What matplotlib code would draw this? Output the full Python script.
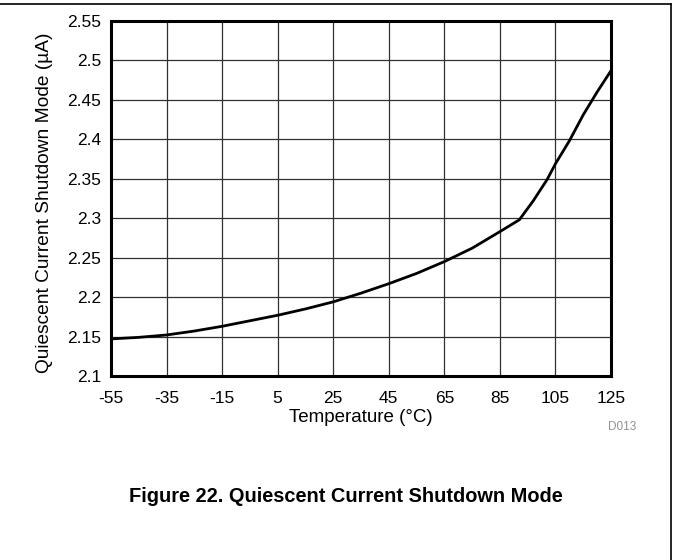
import matplotlib
matplotlib.use("Agg")
from matplotlib import pyplot as plt
from matplotlib.lines import Line2D

plt.rcParams['font.family'] = ['Liberation Sans', 'DejaVu Sans']

# dados
temp = [-55, -45, -35, -25, -15, -5, 5, 15, 25, 35, 45, 55, 65, 75, 85,
        92, 97, 102, 105, 110, 115, 120, 125]
corrente = [2.147, 2.149, 2.152, 2.157, 2.163, 2.170, 2.177, 2.185, 2.194,
            2.205, 2.217, 2.230, 2.245, 2.262, 2.283, 2.298, 2.322, 2.349,
            2.369, 2.398, 2.431, 2.460, 2.487]

xticks = [-55, -35, -15, 5, 25, 45, 65, 85, 105, 125]
xlabels = ["-55", "-35", "-15", "5", "25", "45", "65", "85", "105", "125"]
yticks = [2.1, 2.15, 2.2, 2.25, 2.3, 2.35, 2.4, 2.45, 2.5, 2.55]
ylabels = ["2.1", "2.15", "2.2", "2.25", "2.3", "2.35", "2.4", "2.45", "2.5", "2.55"]

fig = plt.figure(figsize=(6.73, 5.6), dpi=100)
ax = fig.add_axes([111/673, 184/560, 500/673, 355/560])

ax.plot(temp, corrente, color="black", linewidth=2.0)
ax.set_xlim(-55, 125)
ax.set_ylim(2.1, 2.55)
ax.set_xticks(xticks)
ax.set_xticklabels(xlabels)
ax.set_yticks(yticks)
ax.set_yticklabels(ylabels)
ax.tick_params(length=0, labelsize=12.5)
ax.tick_params(axis="x", pad=11)
ax.tick_params(axis="y", pad=7)
ax.grid(True, color="#303030", linewidth=0.9)
for s in ax.spines.values():
    s.set_linewidth(2.2)

# titulos dos eixos
fig.text(361/673, 1 - 418/560, "Temperature (°C)", fontsize=13.5,
         ha="center", va="center")
fig.text(45/673, 1 - 203/560, "Quiescent Current Shutdown Mode (µA)",
         fontsize=13.8, rotation=90, ha="center", va="center")

fig.text(622/673, 1 - 427/560, "D013", color="#909090", fontsize=8.5,
         ha="center", va="center")
fig.text(346/673, 1 - 497/560, "Figure 22. Quiescent Current Shutdown Mode",
         fontsize=14.4, fontweight="bold", ha="center", va="center")

# moldura (topo e direita)
fig.add_artist(Line2D([0, 671/673], [1 - 4/560, 1 - 4/560],
                      transform=fig.transFigure, color="black", linewidth=1.2))
fig.add_artist(Line2D([671/673, 671/673], [0, 1 - 4/560],
                      transform=fig.transFigure, color="black", linewidth=1.2))

fig.savefig("out.png", dpi=100)
